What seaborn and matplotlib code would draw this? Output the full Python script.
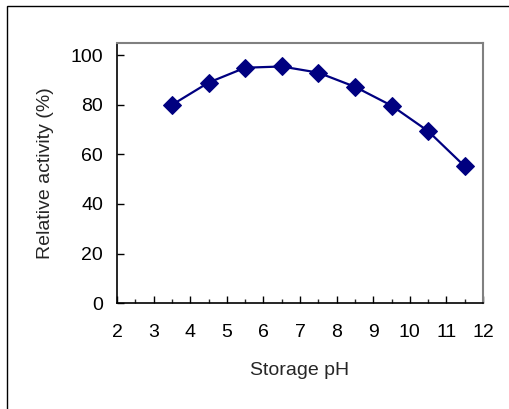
import numpy as np
import pandas as pd
import seaborn as sns
import matplotlib.pyplot as plt
from matplotlib.patches import Rectangle
from matplotlib.ticker import MultipleLocator

# values
ph = [3.5, 4.5, 5.5, 6.5, 7.5, 8.5, 9.5, 10.5, 11.5]
activity = [80, 89, 95, 95.5, 93, 87.3, 79.7, 69.4, 55.2]

df = pd.DataFrame({'Storage pH': ph, 'Relative activity (%)': activity})

sns.set_style('ticks')
plt.rcParams['font.family'] = ['Liberation Sans', 'DejaVu Sans']

fig = plt.figure(figsize=(5.09, 4.09), dpi=100)
ax = fig.add_axes([0.230, 0.259, 0.719, 0.636])

# outer chart frame (cut off at right and bottom)
fig.patches.append(Rectangle((7 / 509, -0.05), 1.2, (409 - 6) / 409 + 0.05,
                             transform=fig.transFigure, fill=False,
                             edgecolor='black', linewidth=1.0))

sns.lineplot(data=df, x='Storage pH', y='Relative activity (%)', ax=ax,
             color='#000080', linewidth=1.6, marker='D', markersize=9,
             markeredgecolor='#000080', markerfacecolor='#000080')

ax.set_xlim(2, 12)
ax.set_ylim(0, 105)
ax.xaxis.set_major_locator(MultipleLocator(1))
ax.xaxis.set_minor_locator(MultipleLocator(0.5))
ax.yaxis.set_major_locator(MultipleLocator(20))
ax.tick_params(axis='both', which='major', direction='in', length=5,
               width=1, labelsize=14, colors='black')
ax.tick_params(axis='x', which='minor', direction='in', length=3, width=1)
ax.tick_params(axis='x', which='major', pad=15)
ax.tick_params(axis='y', which='major', pad=10)

for side in ['top', 'right']:
    ax.spines[side].set_visible(True)
    ax.spines[side].set_color('#808080')
    ax.spines[side].set_linewidth(1.5)
for side in ['left', 'bottom']:
    ax.spines[side].set_color('black')
    ax.spines[side].set_linewidth(1.2)

ax.set_xlabel('Storage pH', fontsize=14, labelpad=15)
ax.set_ylabel('Relative activity (%)', fontsize=14, labelpad=12)

fig.savefig('out.png', dpi=100)
